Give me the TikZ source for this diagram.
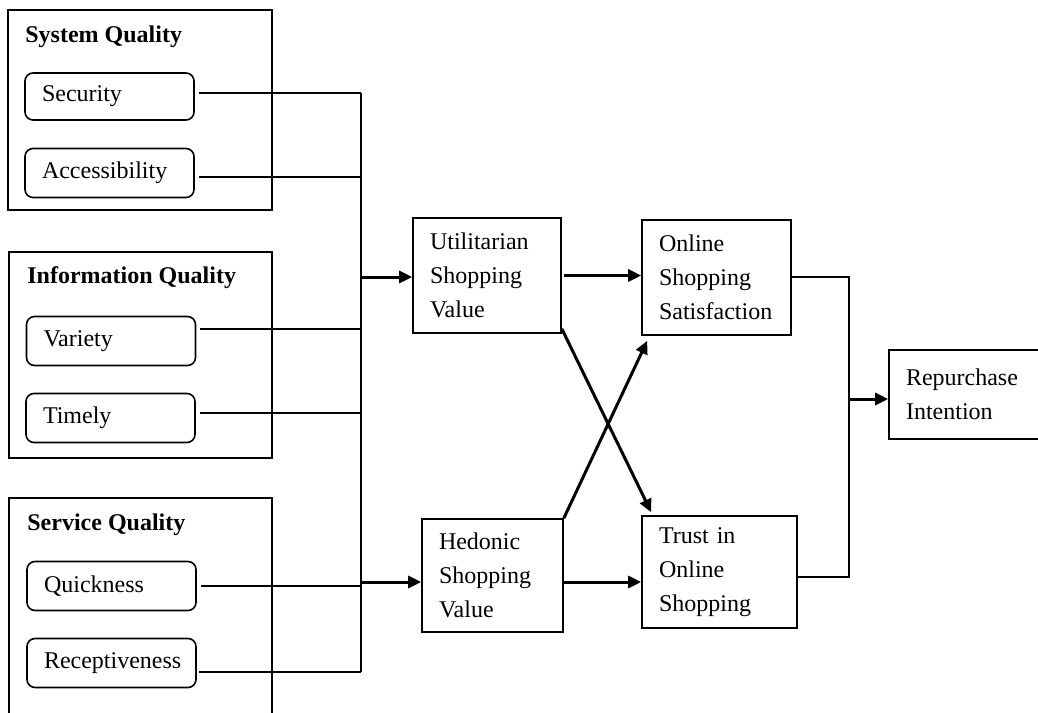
\documentclass[tikz,border=0pt]{standalone}
\usepackage{fontspec}
\setmainfont{Liberation Serif}
\usepackage{tikz}
\usetikzlibrary{arrows.meta, positioning}
\tikzset{
thin line/.style={line width=0.65pt}, % plain connectors, no heads
arr/.style={-{Triangle[length=6.5pt,width=6pt]}, line width=1.5pt}, % bold arrows with filled heads
group/.style={draw, line width=0.9pt, inner sep=0pt}, % outer quality boxes
title/.style={anchor=base west, inner sep=0pt, font=\bfseries\fontsize{12}{14}\selectfont}, % heading inside a quality box
item/.style={draw, rounded corners=4pt, line width=0.8pt, text width=67.5pt, inner xsep=8.5pt, minimum height=24.5pt, align=left, font=\fontsize{12}{14}\selectfont}, % dimensions
construct/.style={draw, line width=0.8pt, inner xsep=8.5pt, align=left, font=\fontsize{12}{17}\selectfont}, % model constructs
}
\begin{document}
\begin{tikzpicture}[x=0.5pt,y=-0.5pt]
            \useasboundingbox (0,0) rectangle (1038,712);
            \clip (0,0) rectangle (1038,712);
            % quality groups
            \node[group, minimum width=132pt, minimum height=100pt] (sysq) at (140,110) {};
            \node[group, minimum width=131.5pt, minimum height=103pt] (infoq) at (140.5,355) {};
            \node[group, minimum width=131.5pt, minimum height=131pt] (servq) at (140.5,629) {};
            \node[title] (sysqt) at (25,42) {System Quality};
            \node[title] (infoqt) at (27,283) {Information Quality};
            \node[title] (servqt) at (27,530) {Service Quality};
            \node[item, minimum height=23.5pt] (security) at (109.5,96.5) {Security};
            \node[item] (access) at (109.5,173) {Accessibility};
            \node[item] (variety) at (111,341) {Variety};
            \node[item] (timely) at (110.5,418) {Timely};
            \node[item] (quick) at (111.5,586) {Quickness};
            \node[item] (recept) at (111.5,663) {Receptiveness};
            % constructs
            \node[construct, text width=57pt, minimum height=57.5pt] (util) at (487,275.5) {Utilitarian\\Shopping\\Value};
            \node[construct, text width=53.5pt, minimum height=56.5pt] (hed) at (492.5,575.5) {Hedonic\\Shopping\\Value};
            \node[construct, text width=57.5pt, minimum height=57.5pt] (oss) at (716.5,277.5) {Online\\Shopping\\Satisfaction};
            \node[construct, text width=60.5pt, minimum height=56pt] (trust) at (719.5,572) {Trust in\\Online\\Shopping};
            \node[construct, text width=63pt, minimum height=44.5pt] (rep) at (969,394.5) {Repurchase\\Intention};
            % bus on the left
            \coordinate (j1) at (361,93);
            \coordinate (j2) at (361,177);
            \coordinate (j3) at (361,329);
            \coordinate (j4) at (361,413);
            \coordinate (j5) at (361,586);
            \coordinate (j6) at (361,672);
            \coordinate (ju) at (361,277);
            \coordinate (jh) at (361,582);
            \draw[thin line] (j1) -- (j6);
            \draw[thin line] (security.east |- j1) ++(2pt,0) -- (j1);
            \draw[thin line] (access.east |- j2) ++(2pt,0) -- (j2);
            \draw[thin line] (variety.east |- j3) ++(2pt,0) -- (j3);
            \draw[thin line] (timely.east |- j4) ++(2pt,0) -- (j4);
            \draw[thin line] (quick.east |- j5) ++(2pt,0) -- (j5);
            \draw[thin line] (recept.east |- j6) ++(1pt,0) -- (j6);
            \draw[arr] (ju) -- (util.west |- ju);
            \draw[arr] (jh) -- (hed.west |- jh);
            % paths between constructs
            \draw[arr] ([xshift=1pt]util.east) -- (oss.west |- util.east);
            \draw[arr] (hed.east |- jh) -- (trust.west |- jh);
            \draw[arr] ([yshift=2.5pt]util.south east) -- ([xshift=5pt,yshift=1.5pt]trust.north west);
            \draw[arr] (hed.north east) -- ([xshift=3pt,yshift=-2.5pt]oss.south west);
            % bus on the right
            \coordinate (k1) at (849,277);
            \coordinate (k2) at (849,577);
            \coordinate (kr) at (849,399);
            \draw[thin line] (oss.east |- k1) -- (k1) -- (k2) -- (trust.east |- k2);
            \draw[arr] (kr) -- (rep.west |- kr);
\end{tikzpicture}
\end{document}
